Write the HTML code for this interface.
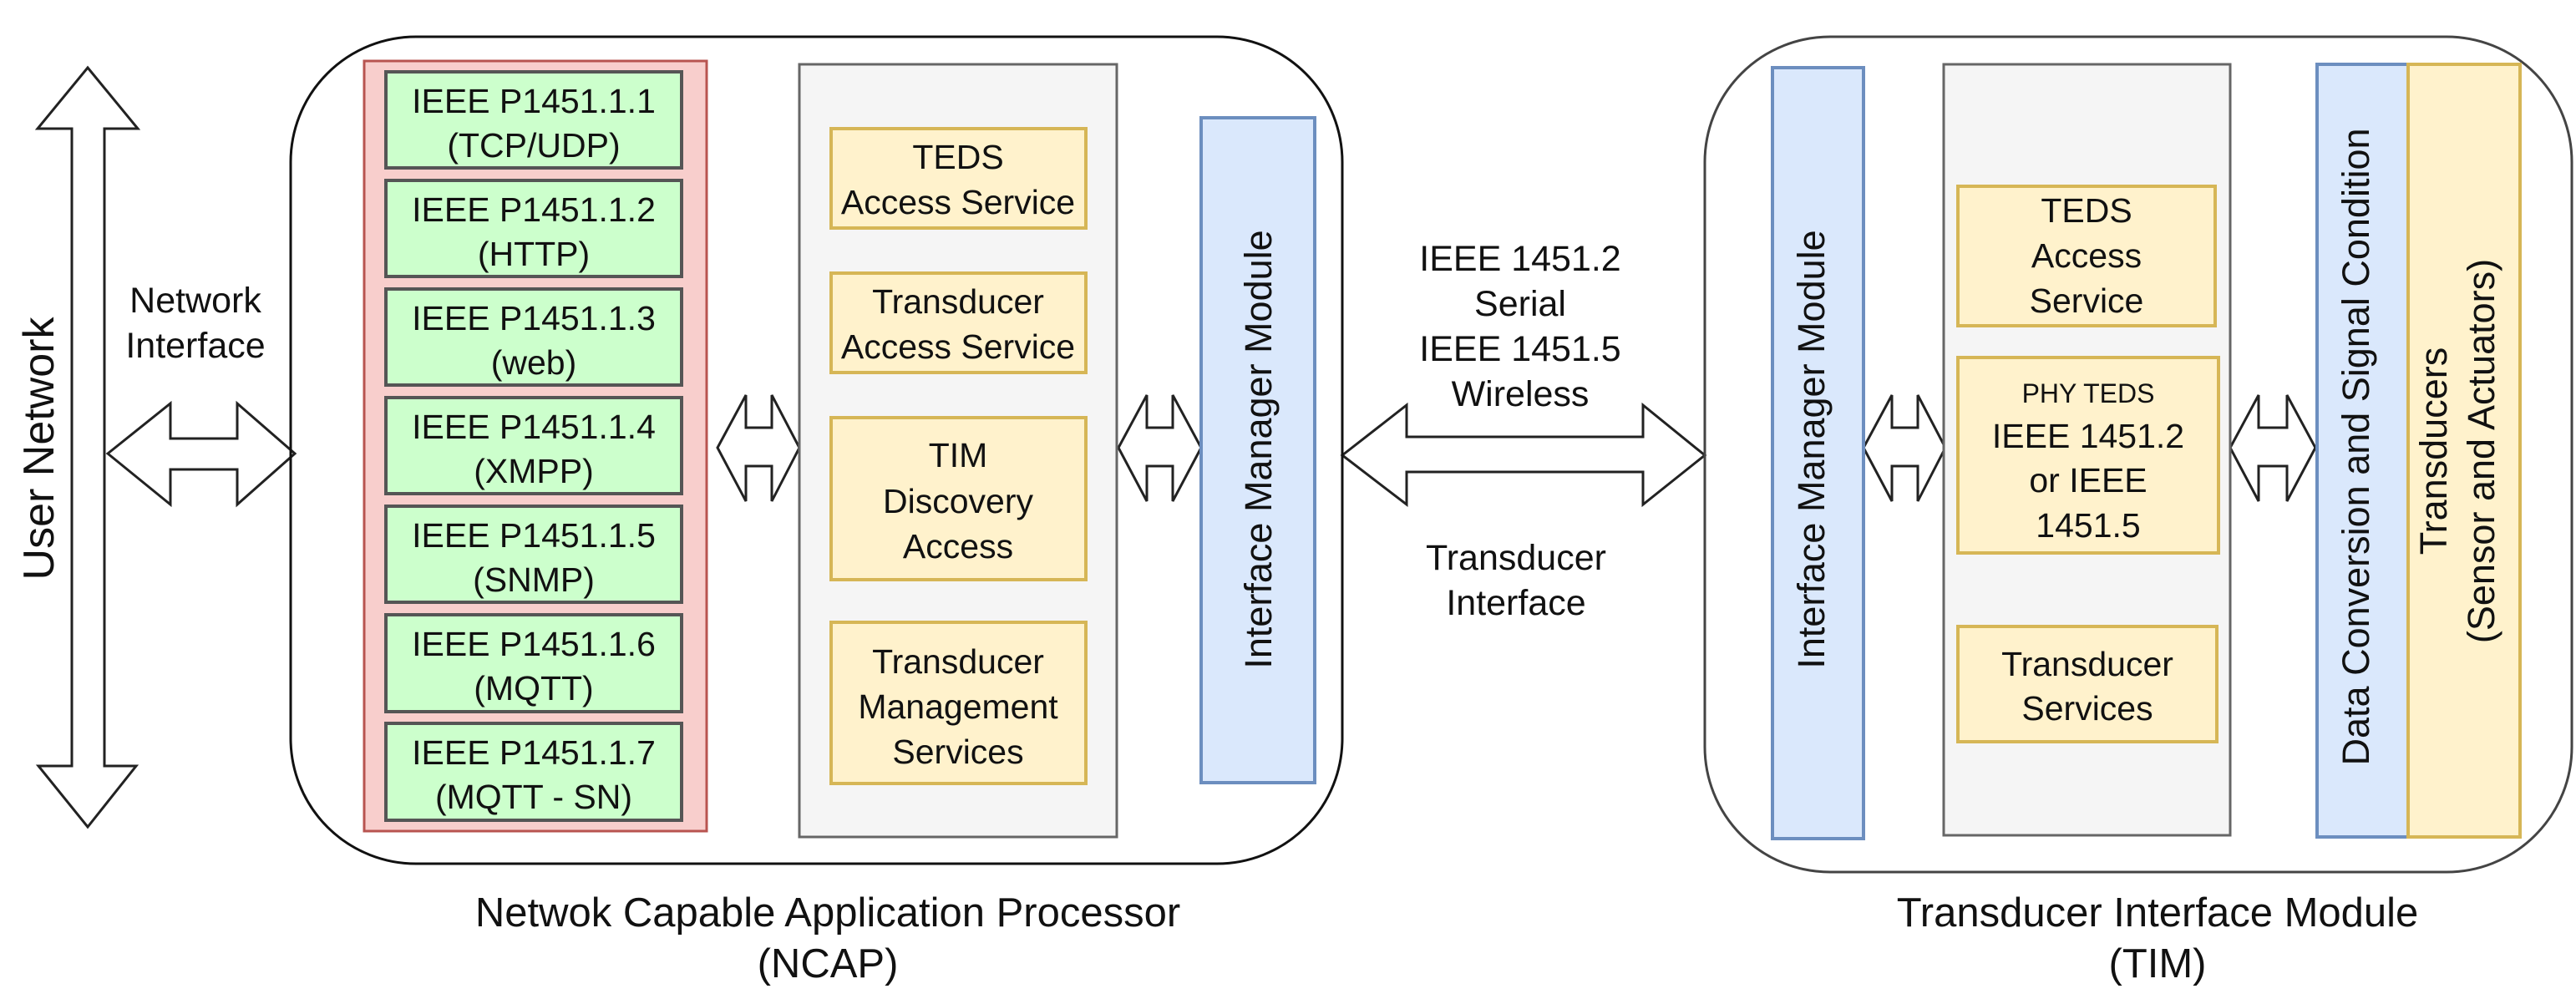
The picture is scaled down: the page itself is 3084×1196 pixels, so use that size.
<!DOCTYPE html>
<html><head><meta charset="utf-8"><style>
html,body{margin:0;padding:0;background:#fff;}
svg{display:block;}
text{font-family:"Liberation Sans",Arial,sans-serif;fill:#111;}
</style></head><body>
<svg width="3084" height="1196" viewBox="0 0 3084 1196" xmlns="http://www.w3.org/2000/svg">
<g stroke="#222" stroke-width="3" fill="#fff" stroke-linejoin="miter">
<polygon points="105,81 165,154 125,154 125,917 163,917 105,990 46,917 86,917 86,154 45,154"/>
<polygon points="129,543 204,483 204,525 284,525 284,483 353,543 284,604 284,562 204,562 204,604"/>
<polygon points="1607,545 1684,485 1684,523 1967,523 1967,485 2041,545 1967,604 1967,565 1684,565 1684,604"/>
<polygon points="859,536 893,473 893,512 924,512 924,473 957,536 924,600 924,558 893,558 893,600"/>
<polygon points="1339,536 1373,473 1373,512 1404,512 1404,473 1438,536 1404,600 1404,558 1373,558 1373,600"/>
<polygon points="2231,536 2265,473 2265,512 2296,512 2296,473 2329,536 2296,600 2296,558 2265,558 2265,600"/>
<polygon points="2670,536 2704,473 2704,512 2738,512 2738,473 2772,536 2738,600 2738,558 2704,558 2704,600"/>
</g>
<rect x="348" y="44" width="1259" height="990" rx="150" ry="150" fill="none" stroke="#111" stroke-width="3"/>
<rect x="2041" y="44" width="1038" height="1000" rx="150" ry="150" fill="none" stroke="#444" stroke-width="3"/>

<rect x="436" y="73" width="410" height="922" fill="#f8cecc" stroke="#b85450" stroke-width="3"/>
<g fill="#ccffcc" stroke="#555" stroke-width="4">
<rect x="462" y="86" width="354" height="115"/>
<rect x="462" y="216" width="354" height="115"/>
<rect x="462" y="346" width="354" height="115"/>
<rect x="462" y="476" width="354" height="115"/>
<rect x="462" y="606" width="354" height="115"/>
<rect x="462" y="736" width="354" height="116"/>
<rect x="462" y="866" width="354" height="116"/>
</g>
<g font-size="41" text-anchor="middle">
<text x="639" y="135">IEEE P1451.1.1</text><text x="639" y="188">(TCP/UDP)</text>
<text x="639" y="265">IEEE P1451.1.2</text><text x="639" y="318">(HTTP)</text>
<text x="639" y="395">IEEE P1451.1.3</text><text x="639" y="448">(web)</text>
<text x="639" y="525">IEEE P1451.1.4</text><text x="639" y="578">(XMPP)</text>
<text x="639" y="655">IEEE P1451.1.5</text><text x="639" y="708">(SNMP)</text>
<text x="639" y="785">IEEE P1451.1.6</text><text x="639" y="838">(MQTT)</text>
<text x="639" y="915">IEEE P1451.1.7</text><text x="639" y="968">(MQTT - SN)</text>
</g>

<rect x="957" y="77" width="380" height="925" fill="#f5f5f5" stroke="#666" stroke-width="3"/>
<g fill="#fff2cc" stroke="#d6b656" stroke-width="4">
<rect x="995" y="154" width="305" height="119"/>
<rect x="995" y="327" width="305" height="119"/>
<rect x="995" y="500" width="305" height="194"/>
<rect x="995" y="745" width="305" height="193"/>
</g>
<g font-size="41" text-anchor="middle">
<text x="1147" y="202">TEDS</text><text x="1147" y="256">Access Service</text>
<text x="1147" y="375">Transducer</text><text x="1147" y="429">Access Service</text>
<text x="1147" y="559">TIM</text><text x="1147" y="614">Discovery</text><text x="1147" y="668">Access</text>
<text x="1147" y="806">Transducer</text><text x="1147" y="860">Management</text><text x="1147" y="914">Services</text>
</g>

<rect x="1438" y="141" width="136" height="796" fill="#dae8fc" stroke="#6c8ebf" stroke-width="4"/>
<text font-size="45" text-anchor="middle" transform="translate(1522,538) rotate(-90)">Interface Manager Module</text>

<rect x="2122" y="81" width="109" height="923" fill="#dae8fc" stroke="#6c8ebf" stroke-width="4"/>
<text font-size="45" text-anchor="middle" transform="translate(2184,538) rotate(-90)">Interface Manager Module</text>

<rect x="2327" y="77" width="343" height="923" fill="#f5f5f5" stroke="#666" stroke-width="3"/>
<g fill="#fff2cc" stroke="#d6b656" stroke-width="4">
<rect x="2344" y="223" width="308" height="167"/>
<rect x="2344" y="428" width="312" height="234"/>
<rect x="2344" y="750" width="310" height="138"/>
</g>
<g font-size="41" text-anchor="middle">
<text x="2498" y="266">TEDS</text><text x="2498" y="320">Access</text><text x="2498" y="374">Service</text>
<text x="2500" y="482" font-size="32">PHY TEDS</text>
<text x="2500" y="536">IEEE 1451.2</text><text x="2500" y="589">or IEEE</text><text x="2500" y="643">1451.5</text>
<text x="2499" y="809">Transducer</text><text x="2499" y="862">Services</text>
</g>

<rect x="2774" y="77" width="109" height="925" fill="#dae8fc" stroke="#6c8ebf" stroke-width="4"/>
<text font-size="45" text-anchor="middle" transform="translate(2836,535) rotate(-90)">Data Conversion and Signal Condition</text>
<rect x="2883" y="77" width="134" height="925" fill="#fff2cc" stroke="#d6b656" stroke-width="4"/>
<text font-size="45" text-anchor="middle" transform="translate(2929,540) rotate(-90)">Transducers</text>
<text font-size="45" text-anchor="middle" transform="translate(2986,540) rotate(-90)">(Sensor and Actuators)</text>

<text font-size="52" text-anchor="middle" transform="translate(64,537) rotate(-90)">User Network</text>
<g font-size="43" text-anchor="middle">
<text x="234" y="374">Network</text><text x="234" y="428">Interface</text>
<text x="1820" y="324">IEEE 1451.2</text><text x="1820" y="378">Serial</text>
<text x="1820" y="432">IEEE 1451.5</text><text x="1820" y="486">Wireless</text>
<text x="1815" y="682">Transducer</text><text x="1815" y="736">Interface</text>
</g>
<g font-size="49" text-anchor="middle">
<text x="991" y="1109">Netwok Capable Application Processor</text><text x="991" y="1170">(NCAP)</text>
<text x="2583" y="1109">Transducer Interface Module</text><text x="2583" y="1170">(TIM)</text>
</g>
</svg>
</body></html>
